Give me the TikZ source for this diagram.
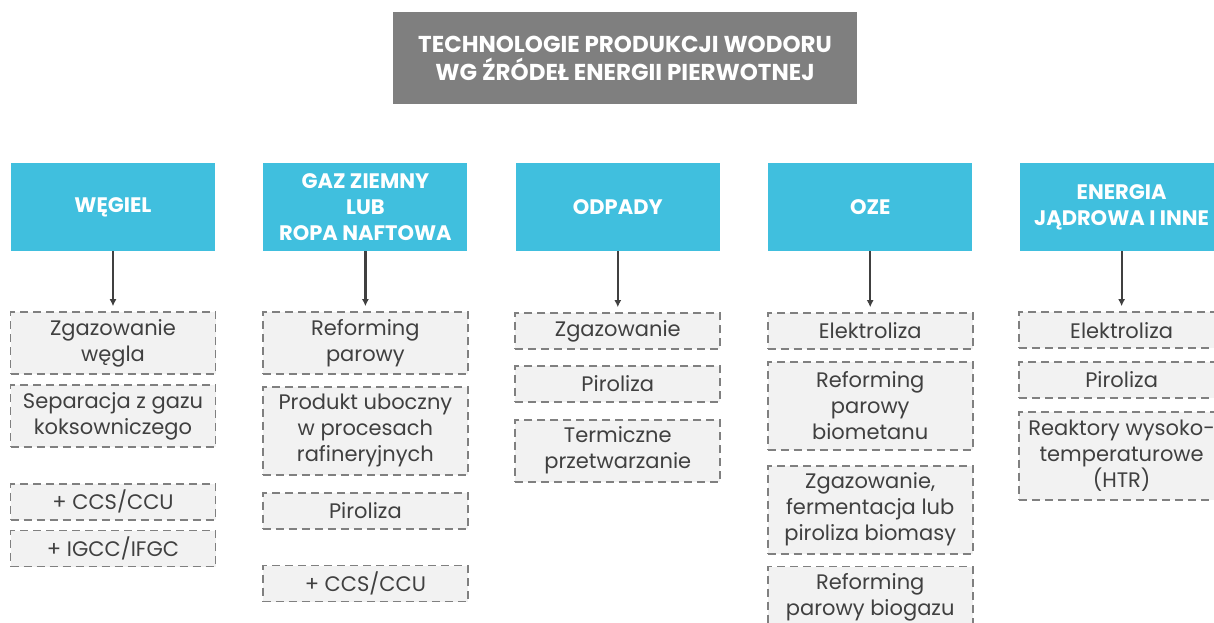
\documentclass[tikz,border=0pt]{standalone}
\usepackage{fontspec}
\setmainfont{Poppins}
\usetikzlibrary{positioning,arrows,arrows.meta}
\definecolor{srccyan}{RGB}{64,191,222}
\definecolor{titlegray}{RGB}{127,127,127}
\definecolor{boxfill}{RGB}{242,242,242}
\definecolor{boxline}{RGB}{128,128,128}
\definecolor{txtgray}{RGB}{64,64,64}
\tikzstyle{tbox}=[rectangle, fill=titlegray, text=white, minimum width=464pt,
                  minimum height=92pt, align=center,
                  font=\fontsize{23}{28}\selectfont\bfseries]
\tikzstyle{sbox}=[rectangle, fill=srccyan, text=white, minimum width=204pt,
                  minimum height=88pt, align=center,
                  font=\fontsize{21}{26}\selectfont\bfseries]
\tikzstyle{pbox}=[rectangle, fill=boxfill, draw=boxline, line width=1.8pt,
 dash pattern=on 8pt off 5pt, text=txtgray, minimum width=205pt,
 minimum height=36pt, inner sep=2pt, align=center,
 font=\fontsize{21}{26}\selectfont]
\tikzstyle{pbox2}=[pbox, minimum height=62pt]
\tikzstyle{pbox3}=[pbox, minimum height=88pt]
\tikzstyle{parrow}=[-{Latex[length=7pt,width=7pt]}, line width=2.2pt, draw=txtgray,
                    shorten >=5pt]

\begin{document}
\begin{tikzpicture}[x=1pt, y=-1pt, node distance=0mm]
\useasboundingbox (0,0) rectangle (1214,623);
\clip (0,0) rectangle (1214,623);

\node (TITLE) [tbox] at (625,58) {TECHNOLOGIE PRODUKCJI WODORU\\WG ŹRÓDEŁ ENERGII PIERWOTNEJ};

\node (WEGIEL) [sbox] at (113,207) {WĘGIEL};
\node (ZGW) [pbox2, below=60pt of WEGIEL] {Zgazowanie\\węgla};
 \draw[parrow] (WEGIEL.south) -- (ZGW.north);
\node (SEPK) [pbox2, below=9pt of ZGW] {Separacja z gazu\\koksowniczego};
\node (CCSW) [pbox, below=35pt of SEPK] {+ CCS/CCU};
\node (IGCC) [pbox, below=9pt of CCSW] {+ IGCC/IFGC};

\node (GAZ) [sbox, right=48pt of WEGIEL] {GAZ ZIEMNY\\LUB\\ROPA NAFTOWA};
\node (REFP) [pbox2, below=60pt of GAZ] {Reforming\\parowy};
 \draw[parrow] (GAZ.south) -- (REFP.north);
\node (PRUB) [pbox3, below=11pt of REFP] {Produkt uboczny\\w procesach\\rafineryjnych};
\node (PIRG) [pbox, below=16pt of PRUB] {Piroliza};
\node (CCSG) [pbox, below=35pt of PIRG] {+ CCS/CCU};

\node (ODPADY) [sbox, right=48pt of GAZ] {ODPADY};
\node (ZGO) [pbox, below=61pt of ODPADY] {Zgazowanie};
 \draw[parrow] (ODPADY.south) -- (ZGO.north);
\node (PIRO) [pbox, below=15pt of ZGO] {Piroliza};
\node (TERM) [pbox2, below=16pt of PIRO] {Termiczne\\przetwarzanie};

\node (OZE) [sbox, right=48pt of ODPADY] {OZE};
\node (ELO) [pbox, below=61pt of OZE] {Elektroliza};
 \draw[parrow] (OZE.south) -- (ELO.north);
\node (REFB) [pbox3, below=11pt of ELO] {Reforming\\parowy\\biometanu};
\node (ZFP) [pbox3, below=14pt of REFB] {Zgazowanie,\\fermentacja lub\\piroliza biomasy};
\node (REFG) [pbox2, below=11pt of ZFP] {Reforming\\parowy biogazu};

\node (ENERGIA) [sbox, right=47pt of OZE] {ENERGIA\\JĄDROWA I INNE};
\node (ELJ) [pbox, below=60pt of ENERGIA] {Elektroliza};
 \draw[parrow] (ENERGIA.south) -- (ELJ.north);
\node (PIRJ) [pbox, below=12pt of ELJ] {Piroliza};
\node (HTR) [pbox3, below=12pt of PIRJ] {Reaktory wysoko-\\temperaturowe\\(HTR)};

\end{tikzpicture}
\end{document}
